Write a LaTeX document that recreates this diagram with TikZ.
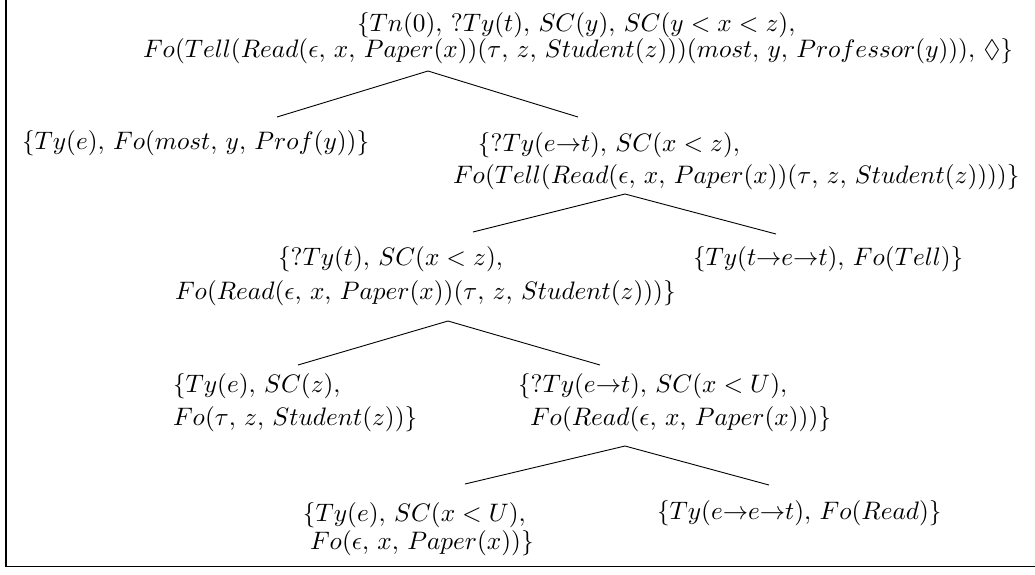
\documentclass[tikz,border=0pt]{standalone}
\usepackage{amssymb}
\newlength\unitpx
\newcommand\arr{{\rightarrow}}
\newcommand\cm{{,}\ }
\tikzset{
  line/.style={anchor=base west, inner sep=0pt, outer sep=0pt},
  branch/.style={line width=0.9\unitpx, line join=round},
  frame/.style={line width=1.3\unitpx}
}
\begin{document}
\settowidth\unitpx{$Fo(Tell(Read(\epsilon\cm x\cm Paper(x))(\tau\cm z\cm Student(z)))(most\cm y\cm Professor(y)))\cm \Diamond\}$}%
\divide\unitpx by 870
\begin{tikzpicture}
\begin{scope}[x=\unitpx,y=-\unitpx]
\useasboundingbox (0,0) rectangle (1035,574);
\draw[frame] (6,0) -- (6,566.5) -- (1035,566.5);
% root
\node[line] (r1) at (357,31) {$\{Tn(0)\cm ?Ty(t)\cm SC(y)\cm SC(y<x<z){,}$};
\node[line] (r2) at (143,57) {$Fo(Tell(Read(\epsilon\cm x\cm Paper(x))(\tau\cm z\cm Student(z)))(most\cm y\cm Professor(y)))\cm \Diamond\}$};
% level 2
\node[line] (a) at (22,149) {$\{Ty(e)\cm Fo(most\cm y\cm Prof(y))\}$};
\node[line] (b1) at (478,151) {$\{?Ty(e\arr t)\cm SC(x<z){,}$};
\node[line] (b2) at (453,183) {$Fo(Tell(Read(\epsilon\cm x\cm Paper(x))(\tau\cm z\cm Student(z))))\}$};
% level 3
\node[line] (c1) at (278,265) {$\{?Ty(t)\cm SC(x<z){,}$};
\node[line] (c2) at (175,299) {$Fo(Read(\epsilon\cm x\cm Paper(x))(\tau\cm z\cm Student(z)))\}$};
\node[line] (d) at (693,265) {$\{Ty(t\arr e\arr t)\cm Fo(Tell)\}$};
% level 4
\node[line] (e1) at (173,392) {$\{Ty(e)\cm SC(z){,}$};
\node[line] (e2) at (173,425) {$Fo(\tau\cm z\cm Student(z))\}$};
\node[line] (f1) at (518,392) {$\{?Ty(e\arr t)\cm SC(x<U){,}$};
\node[line] (f2) at (530,425) {$Fo(Read(\epsilon\cm x\cm Paper(x)))\}$};
% level 5
\node[line] (g1) at (303,521) {$\{Ty(e)\cm SC(x<U){,}$};
\node[line] (g2) at (310,549) {$Fo(\epsilon\cm x\cm Paper(x))\}$};
\node[line] (h) at (657,519) {$\{Ty(e\arr e\arr t)\cm Fo(Read)\}$};
% branch points
\coordinate (r-top) at (428,71);
\coordinate (a-top) at (277,117);
\coordinate (b-top) at (578,117);
\coordinate (b-bot) at (625,194);
\coordinate (c-top) at (473,232);
\coordinate (d-top) at (776,234);
\coordinate (c-bot) at (448,321);
\coordinate (e-top) at (298,365);
\coordinate (f-top) at (600,365);
\coordinate (f-bot) at (625,446);
\coordinate (g-top) at (465,484);
\coordinate (h-top) at (769,485);
\draw[branch] (a-top) -- (r-top) -- (b-top);
\draw[branch] (c-top) -- (b-bot) -- (d-top);
\draw[branch] (e-top) -- (c-bot) -- (f-top);
\draw[branch] (g-top) -- (f-bot) -- (h-top);
\end{scope}
\end{tikzpicture}
\end{document}
